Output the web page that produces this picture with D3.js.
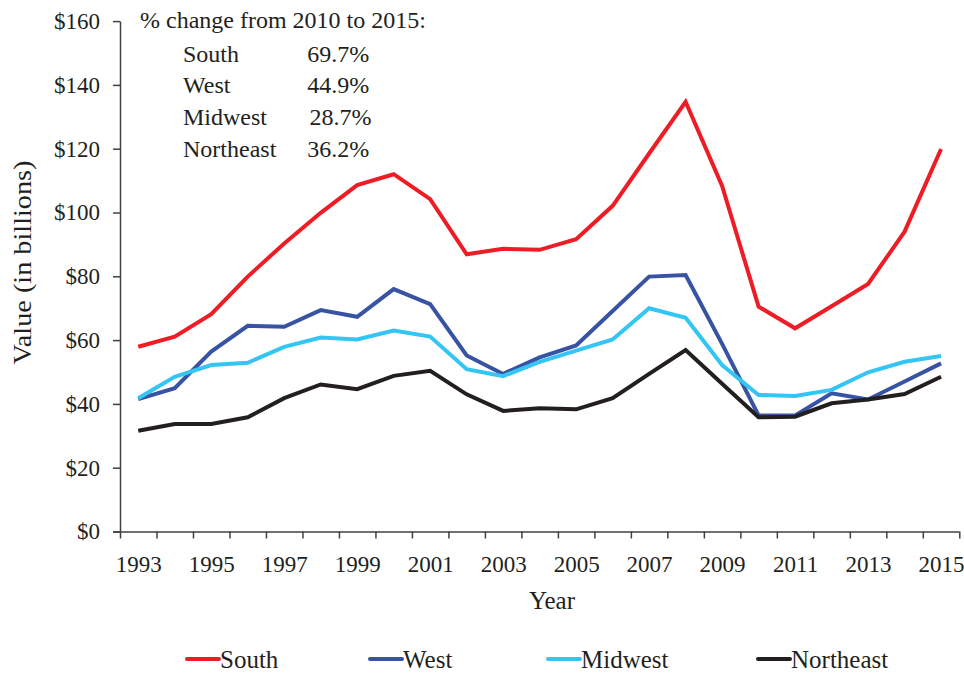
<!DOCTYPE html>
<html>
<head>
<meta charset="utf-8">
<script src="https://cdn.jsdelivr.net/npm/d3@7/dist/d3.min.js"></script>
<style>
  html, body { margin: 0; padding: 0; background: #fff; }
  svg { display: block; }
  text { font-family: "Liberation Serif", "Times New Roman", serif; fill: #231f20; }
</style>
</head>
<body>
<svg id="chart" width="964" height="675"></svg>
<script>
const years = d3.range(1993, 2016);
const yearLabels = [1993,1995,1997,1999,2001,2003,2005,2007,2009,2011,2013,2015];
const yTicks = [0,20,40,60,80,100,120,140,160];

const seriesNames = ["South", "West", "Midwest", "Northeast"];
const seriesColors = ["#ee1c25", "#3953a4", "#33c5f3", "#231f20"];

const south     = [57.9,61.1,68.1,79.9,90.3,99.9,108.6,112.0,104.2,86.9,88.6,88.3,91.6,102.1,118.5,134.7,108.3,70.5,63.7,70.6,77.6,94.0,119.9];
const west      = [41.5,44.9,56.4,64.5,64.2,69.4,67.3,76.0,71.3,55.2,49.4,54.6,58.3,69.1,79.9,80.4,58.8,36.4,36.4,43.3,41.4,47.0,52.7];
const midwest   = [41.8,48.5,52.2,52.9,57.9,60.8,60.2,63.0,61.1,50.9,48.7,53.2,56.7,60.2,70.0,67.0,52.2,42.8,42.5,44.4,49.9,53.2,55.0];
const northeast = [31.6,33.7,33.7,35.8,41.8,46.1,44.6,48.8,50.4,43.0,37.8,38.6,38.3,41.8,49.4,56.9,46.3,35.8,36.0,40.2,41.4,43.1,48.5];
const seriesValues = [south, west, midwest, northeast];

const changeTitle = "% change from 2010 to 2015:";
const changeLabels = ["South", "West", "Midwest", "Northeast"];
const changeValues = ["69.7%", "44.9%", "28.7%", "36.2%"];

const svg = d3.select("#chart");
const pLeft = 120, pRight = 959.3, pTop = 21.1, pBottom = 531.5;
const axisColor = "#404040";
const serif = '"Liberation Serif", "Times New Roman", serif';

const x = d3.scaleLinear().domain([1992.5, 2015.5]).range([pLeft, pRight]);
const y = d3.scaleLinear().domain([0, 160]).range([pBottom, pTop]);

// X axis: ticks at year boundaries
const bounds = d3.range(1992.5, 2016, 1);
const xAxis = svg.append("g").attr("transform", `translate(0,${pBottom})`)
  .call(d3.axisBottom(x).tickValues(bounds).tickFormat("").tickSize(7).tickSizeOuter(0));
xAxis.select(".domain").attr("d", `M${pLeft - 7},0.5H${pRight}`);
xAxis.selectAll("path,line").attr("stroke", axisColor).attr("stroke-width", 1.5);

const xLabels = svg.append("g").attr("transform", `translate(0,${pBottom})`)
  .call(d3.axisBottom(x).tickValues(yearLabels).tickFormat(d3.format("d")).tickSize(0).tickPadding(24));
xLabels.select(".domain").remove();
xLabels.selectAll("text").attr("font-size", 23).attr("fill", "#231f20").style("font-family", serif);

// Y axis
const yAxis = svg.append("g").attr("transform", `translate(${pLeft},0)`)
  .call(d3.axisLeft(y).tickValues(yTicks).tickFormat(d => "$" + d).tickSize(7).tickSizeOuter(0).tickPadding(13));
yAxis.selectAll("path,line").attr("stroke", axisColor).attr("stroke-width", 1.5);
yAxis.selectAll("text").attr("font-size", 23).attr("fill", "#231f20").style("font-family", serif);

// Axis titles
svg.append("text").attr("x", 552).attr("y", 609).attr("text-anchor", "middle")
  .attr("font-size", 25).text("Year");
svg.append("text").attr("transform", `translate(30.5,262.5) rotate(-90)`)
  .attr("text-anchor", "middle").attr("font-size", 26)
  .attr("textLength", 204).attr("lengthAdjust", "spacingAndGlyphs")
  .text("Value (in billions)");

// Lines
const line = d3.line().x((d, i) => x(years[i])).y(d => y(d));
seriesValues.forEach((vals, k) => {
  svg.append("path").datum(vals).attr("d", line)
    .attr("fill", "none").attr("stroke", seriesColors[k])
    .attr("stroke-width", 4).attr("stroke-linejoin", "miter").attr("stroke-linecap", "butt");
});

// Annotation
svg.append("text").attr("x", 140).attr("y", 27.5).attr("font-size", 24).text(changeTitle);
const rowY = [61.7, 93.3, 125, 156.7];
changeLabels.forEach((lab, i) => {
  svg.append("text").attr("x", 183).attr("y", rowY[i]).attr("font-size", 24).text(lab);
  svg.append("text").attr("x", i === 2 ? 309.5 : 307.3).attr("y", rowY[i]).attr("font-size", 24).text(changeValues[i]);
});

// Legend
const legendX = [187, 370, 548, 758];
seriesNames.forEach((name, i) => {
  svg.append("line").attr("x1", legendX[i]).attr("x2", legendX[i] + 32)
    .attr("y1", 659).attr("y2", 659).attr("stroke", seriesColors[i])
    .attr("stroke-width", 4).attr("stroke-linecap", "round");
  svg.append("text").attr("x", legendX[i] + 33).attr("y", 667.5).attr("font-size", 25).text(name);
});
</script>
</body>
</html>
